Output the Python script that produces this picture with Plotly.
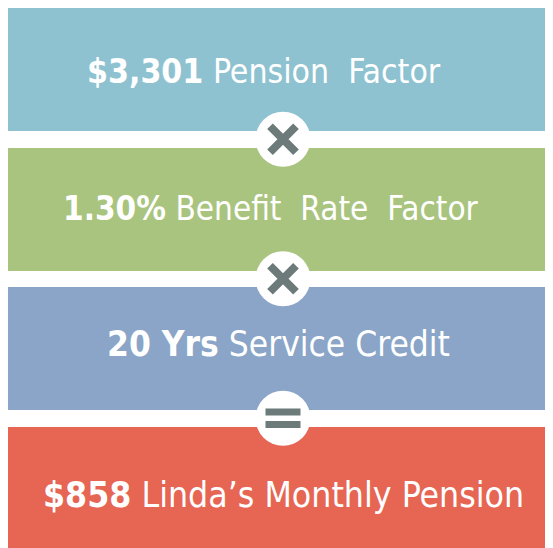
import plotly.graph_objects as go

# ---- data ----
values = ["$3,301", "1.30%", "20 Yrs", "$858"]
labels = ["Pension  Factor", "Benefit  Rate  Factor", "Service Credit", "Linda\u2019s Monthly Pension"]
operators = ["x", "x", "="]

# ---- styles ----
colors = ["#8EC2D0", "#A9C47E", "#8AA5C7", "#E66553"]
font_sizes = [33.5, 33, 35, 35.3]
text_cx_px = [256, 263, 270, 275]
text_yshift = [-1.5, 0.8, 4.5, -6.5]
op_color = "#6C7B7A"
FONT = "Liberation Sans Narrow, DejaVu Sans Condensed, Arial Narrow, sans-serif"

# page body adds an 8px margin, so the figure is slightly smaller than the window
W, H = 545, 540
pitch = 139.5
first_center = 61.5
box_h = 123

rows = list(range(len(values)))

fig = go.Figure()
fig.add_trace(go.Bar(
    y=rows, x=[1] * len(rows), orientation="h", width=box_h / pitch,
    marker=dict(color=colors, line=dict(width=0)), hoverinfo="skip",
))

op_y = [r + 0.5 for r in rows[:-1]]
cx = 275 / W
fig.add_trace(go.Scatter(
    x=[cx] * len(op_y), y=op_y, mode="markers",
    marker=dict(size=55, color="white", line=dict(width=0)), hoverinfo="skip",
))

x_y = [y for y, o in zip(op_y, operators) if o == "x"]
fig.add_trace(go.Scatter(
    x=[cx] * len(x_y), y=x_y, mode="markers",
    marker=dict(symbol="x-thin", size=26, line=dict(width=8, color=op_color)),
    hoverinfo="skip",
))
eq_y = [y for y, o in zip(op_y, operators) if o == "="]
off = 6.2 / pitch
eq_ys = []
for y in eq_y:
    eq_ys += [y - off, y + off]
fig.add_trace(go.Scatter(
    x=[cx] * len(eq_ys), y=eq_ys, mode="markers",
    marker=dict(symbol="line-ew", size=25, line=dict(width=7, color=op_color)),
    hoverinfo="skip",
))

for r, v, l, fs, tx, ys in zip(rows, values, labels, font_sizes, text_cx_px, text_yshift):
    fig.add_annotation(
        x=tx / W, y=r, xref="x", yref="y", xanchor="center", yanchor="middle",
        yshift=ys, text=f"<b>{v}</b> {l}", showarrow=False,
        font=dict(family=FONT, size=fs, color="white"),
    )

fig.update_layout(
    width=W, height=H, margin=dict(l=0, r=0, t=0, b=0),
    paper_bgcolor="white", plot_bgcolor="white", showlegend=False,
    xaxis=dict(range=[0, 1], visible=False, fixedrange=True),
    yaxis=dict(range=[(H - first_center) / pitch, -first_center / pitch],
               visible=False, fixedrange=True),
    bargap=0,
)
fig.write_html("out.html")
